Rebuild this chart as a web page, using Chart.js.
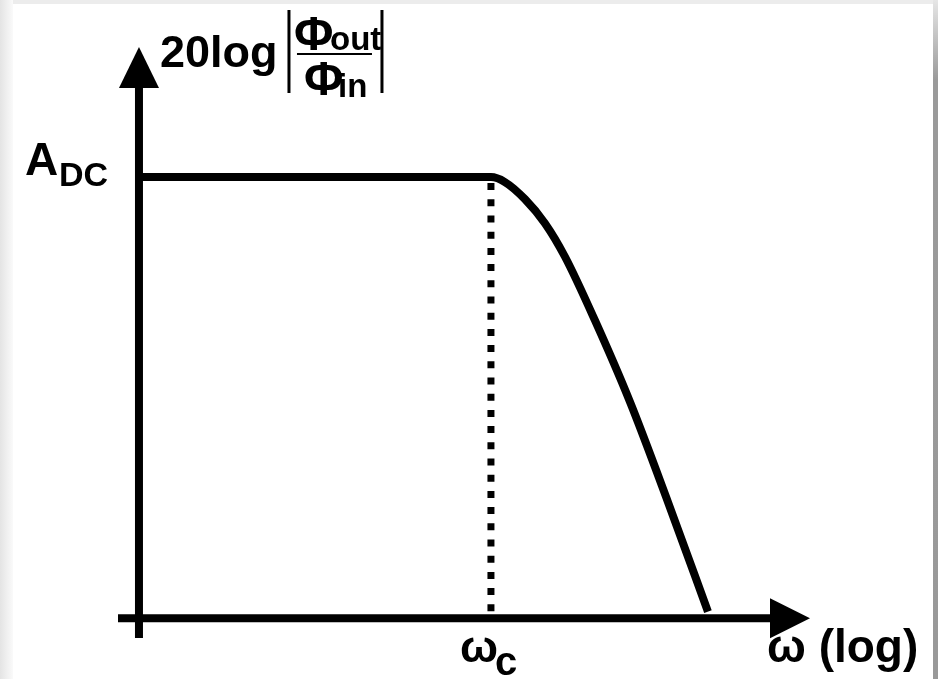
<!DOCTYPE html>
<html>
<head>
<meta charset="utf-8">
<script src="https://cdn.jsdelivr.net/npm/chart.js@4/dist/chart.umd.min.js"></script>
<style>
    html, body { margin: 0; padding: 0; background: #fff; }
    #wrap { position: relative; width: 938px; height: 679px; background: #fff; overflow: hidden; }
    #wrap .top { position: absolute; left: 0; top: 0; width: 938px; height: 4px; background: #ececec; }
    #wrap .left { position: absolute; left: 0; top: 0; width: 13px; height: 679px; background: linear-gradient(to right, #e4e4e4, #fafafa); }
    #wrap .right { position: absolute; right: 0; top: 0; width: 5px; height: 679px; background: linear-gradient(to bottom, #e6e6e6 0px, #9a9a9a 80px, #999 679px); }
    #bode { position: absolute; left: 0; top: 0; }
</style>
</head>
<body>
<div id="wrap">
    <div class="top"></div>
    <div class="left"></div>
    <div class="right"></div>
    <canvas id="bode" width="938" height="679"></canvas>
</div>
<script>
// Bode magnitude sketch: low-pass roll-off past the cutoff
const omega = [10, 1000, 1200, 1560, 2030, 2630, 3900, 6170, 10100, 17100];
const gainDb = [40, 40, 39.55, 38.0, 35.8, 32.8, 27.0, 19.6, 10.6, 0.6];

// dotted marker at the cutoff frequency
const cutoffOmega = [1000, 1000];
const cutoffDb = [40, 0];

// axis extents (x is log omega, y is dB)
const xRange = [7.6, 65000];
const yRange = [-1.8, 51.8];
const yAxisAtOmega = 10;
const xAxisAtDb = 0;

// tick labels (main text + subscript)
const yTickValue = 40;
const yTickLabel = ['A', 'DC'];
const xTickValue = 1000;
const xTickLabel = ['ω', 'c'];
const xAxisTitle = 'ω (log)';
const yAxisTitle = ['20log', 'Φ', 'out', 'Φ', 'in'];

const FONT = "'Liberation Sans', Arial, sans-serif";
const NARROW = "'Liberation Sans Narrow', 'Liberation Sans', Arial, sans-serif";

const toPoints = (xs, ys) => xs.map((x, i) => ({ x: x, y: ys[i] }));

const axesPlugin = {
    id: 'axesPlugin',
    beforeDatasetsDraw(chart) {
        const ctx = chart.ctx;
        const xs = chart.scales.x;
        const ys = chart.scales.y;
        const ax = xs.getPixelForValue(yAxisAtOmega);
        const ay = ys.getPixelForValue(xAxisAtDb);

        ctx.save();
        ctx.strokeStyle = '#000';
        ctx.fillStyle = '#000';
        ctx.lineWidth = 8;
        ctx.lineCap = 'butt';

        // y axis
        ctx.beginPath();
        ctx.moveTo(ax, ys.bottom);
        ctx.lineTo(ax, ys.top + 36);
        ctx.stroke();
        ctx.beginPath();
        ctx.moveTo(ax, ys.top);
        ctx.lineTo(ax - 20, ys.top + 41);
        ctx.lineTo(ax + 20, ys.top + 41);
        ctx.closePath();
        ctx.fill();

        // x axis
        ctx.beginPath();
        ctx.moveTo(xs.left, ay);
        ctx.lineTo(xs.right - 36, ay);
        ctx.stroke();
        ctx.beginPath();
        ctx.moveTo(xs.right, ay);
        ctx.lineTo(xs.right - 40, ay - 20);
        ctx.lineTo(xs.right - 40, ay + 20);
        ctx.closePath();
        ctx.fill();
        ctx.restore();
    },
    afterDraw(chart) {
        const ctx = chart.ctx;
        const xs = chart.scales.x;
        const ys = chart.scales.y;
        const ax = xs.getPixelForValue(yAxisAtOmega);
        const ay = ys.getPixelForValue(xAxisAtDb);
        const ty = ys.getPixelForValue(yTickValue);
        const tx = xs.getPixelForValue(xTickValue);

        ctx.save();
        ctx.fillStyle = '#000';
        ctx.strokeStyle = '#000';
        ctx.textAlign = 'left';
        ctx.textBaseline = 'alphabetic';

        // y tick: A_DC
        ctx.font = 'bold 46px ' + FONT;
        ctx.fillText(yTickLabel[0], ax - 114, ty - 2);
        ctx.font = 'bold 34px ' + FONT;
        ctx.fillText(yTickLabel[1], ax - 80, ty + 9);

        // x tick: omega_c
        ctx.font = 'bold 45px ' + FONT;
        ctx.fillText(xTickLabel[0], tx - 31, ay + 44);
        ctx.font = 'bold 40px ' + FONT;
        ctx.fillText(xTickLabel[1], tx + 4, ay + 57);

        // x axis title
        ctx.font = 'bold 46px ' + FONT;
        ctx.fillText(xAxisTitle, xs.right - 43, ay + 44);

        // y axis title: 20log |Φout / Φin|
        ctx.font = 'bold 45px ' + FONT;
        ctx.fillText(yAxisTitle[0], ax + 21, ys.top + 20);

        ctx.lineWidth = 3;
        ctx.beginPath();
        ctx.moveTo(ax + 150, ys.top - 37);
        ctx.lineTo(ax + 150, ys.top + 46);
        ctx.moveTo(ax + 243, ys.top - 37);
        ctx.lineTo(ax + 243, ys.top + 46);
        ctx.stroke();

        ctx.lineWidth = 2;
        ctx.beginPath();
        ctx.moveTo(ax + 158, ys.top + 7);
        ctx.lineTo(ax + 233, ys.top + 7);
        ctx.stroke();

        ctx.font = 'bold 48px ' + FONT;
        ctx.fillText(yAxisTitle[1], ax + 155, ys.top + 3);
        ctx.font = 'bold 33px ' + NARROW;
        ctx.fillText(yAxisTitle[2], ax + 191, ys.top + 3);
        ctx.font = 'bold 48px ' + FONT;
        ctx.fillText(yAxisTitle[3], ax + 165, ys.top + 48);
        ctx.font = 'bold 33px ' + NARROW;
        ctx.fillText(yAxisTitle[4], ax + 199, ys.top + 50);

        ctx.restore();
    }
};

const ctx = document.getElementById('bode');

new Chart(ctx, {
    type: 'line',
    data: {
        datasets: [
            {
                label: 'gain',
                data: toPoints(omega, gainDb),
                borderColor: '#000',
                borderWidth: 8,
                borderCapStyle: 'butt',
                borderJoinStyle: 'round',
                cubicInterpolationMode: 'monotone',
                pointRadius: 0,
                fill: false
            },
            {
                label: 'cutoff',
                data: toPoints(cutoffOmega, cutoffDb),
                borderColor: '#000',
                borderWidth: 7,
                borderCapStyle: 'butt',
                borderDash: [7, 9.2],
                borderDashOffset: 10.2,
                pointRadius: 0,
                fill: false
            }
        ]
    },
    options: {
        responsive: false,
        animation: false,
        layout: {
            padding: { left: 118, right: 128, top: 47, bottom: 41 }
        },
        plugins: {
            legend: { display: false },
            tooltip: { enabled: false }
        },
        scales: {
            x: {
                type: 'logarithmic',
                display: false,
                bounds: 'data',
                min: xRange[0],
                max: xRange[1]
            },
            y: {
                type: 'linear',
                display: false,
                bounds: 'data',
                min: yRange[0],
                max: yRange[1]
            }
        }
    },
    plugins: [axesPlugin]
});
</script>
</body>
</html>
